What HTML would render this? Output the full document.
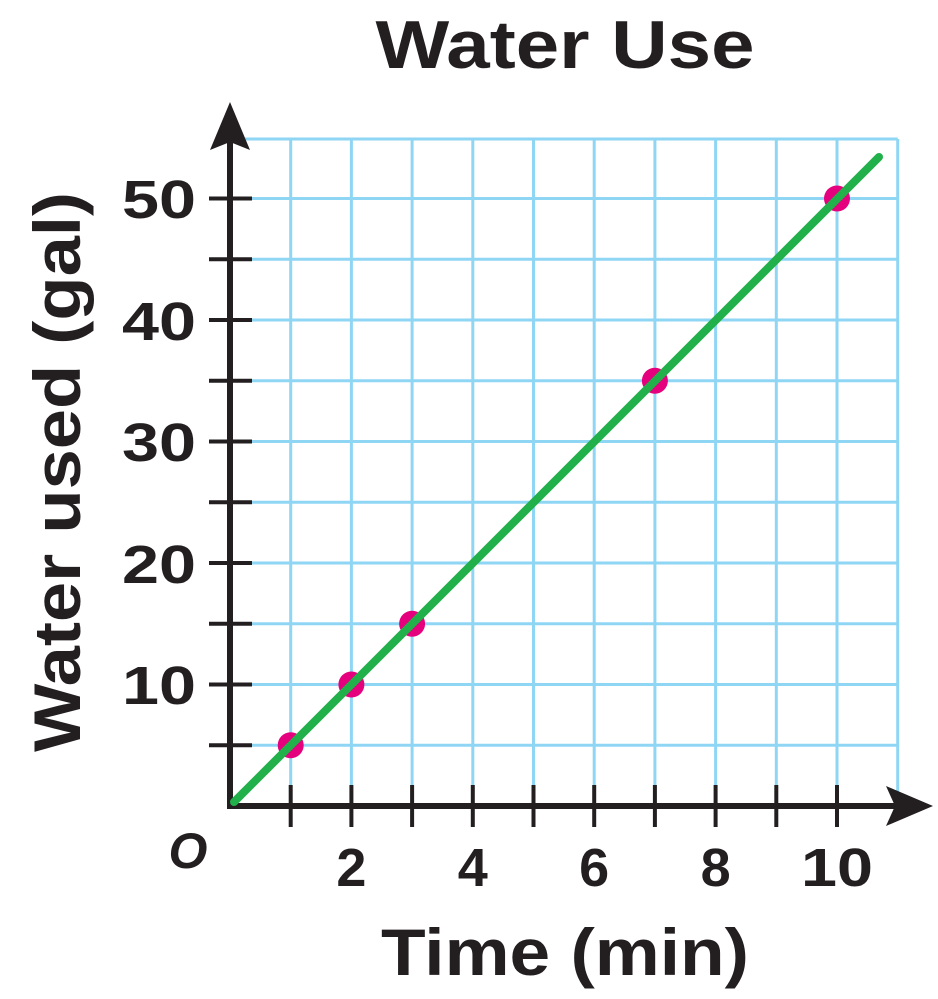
<!DOCTYPE html>
<html><head><style>html,body{margin:0;padding:0;background:#fff}</style></head>
<body>
<svg width="938" height="994" viewBox="0 0 938 994" xmlns="http://www.w3.org/2000/svg" font-family="Liberation Sans, sans-serif" font-weight="bold" fill="#231f20">
<g stroke="#8fd6f5" stroke-width="3">
<line x1="290.7" y1="139" x2="290.7" y2="806"/>
<line x1="351.4" y1="139" x2="351.4" y2="806"/>
<line x1="412.1" y1="139" x2="412.1" y2="806"/>
<line x1="472.8" y1="139" x2="472.8" y2="806"/>
<line x1="533.5" y1="139" x2="533.5" y2="806"/>
<line x1="594.2" y1="139" x2="594.2" y2="806"/>
<line x1="654.9" y1="139" x2="654.9" y2="806"/>
<line x1="715.6" y1="139" x2="715.6" y2="806"/>
<line x1="776.3" y1="139" x2="776.3" y2="806"/>
<line x1="837" y1="139" x2="837" y2="806"/>
<line x1="897.7" y1="139" x2="897.7" y2="806"/>
<line x1="230" y1="745.2" x2="897.7" y2="745.2"/>
<line x1="230" y1="684.5" x2="897.7" y2="684.5"/>
<line x1="230" y1="623.7" x2="897.7" y2="623.7"/>
<line x1="230" y1="563" x2="897.7" y2="563"/>
<line x1="230" y1="502.2" x2="897.7" y2="502.2"/>
<line x1="230" y1="441.5" x2="897.7" y2="441.5"/>
<line x1="230" y1="380.7" x2="897.7" y2="380.7"/>
<line x1="230" y1="320" x2="897.7" y2="320"/>
<line x1="230" y1="259.2" x2="897.7" y2="259.2"/>
<line x1="230" y1="198.5" x2="897.7" y2="198.5"/>
<line x1="230" y1="139" x2="897.7" y2="139"/>
</g>
<g stroke="#231f20" stroke-width="4">
<line x1="290.7" y1="785" x2="290.7" y2="827"/>
<line x1="351.4" y1="785" x2="351.4" y2="827"/>
<line x1="412.1" y1="785" x2="412.1" y2="827"/>
<line x1="472.8" y1="785" x2="472.8" y2="827"/>
<line x1="533.5" y1="785" x2="533.5" y2="827"/>
<line x1="594.2" y1="785" x2="594.2" y2="827"/>
<line x1="654.9" y1="785" x2="654.9" y2="827"/>
<line x1="715.6" y1="785" x2="715.6" y2="827"/>
<line x1="776.3" y1="785" x2="776.3" y2="827"/>
<line x1="837" y1="785" x2="837" y2="827"/>
<line x1="209" y1="745.2" x2="252" y2="745.2"/>
<line x1="209" y1="684.5" x2="252" y2="684.5"/>
<line x1="209" y1="623.7" x2="252" y2="623.7"/>
<line x1="209" y1="563" x2="252" y2="563"/>
<line x1="209" y1="502.2" x2="252" y2="502.2"/>
<line x1="209" y1="441.5" x2="252" y2="441.5"/>
<line x1="209" y1="380.7" x2="252" y2="380.7"/>
<line x1="209" y1="320" x2="252" y2="320"/>
<line x1="209" y1="259.2" x2="252" y2="259.2"/>
<line x1="209" y1="198.5" x2="252" y2="198.5"/>
</g>
<g stroke="#231f20" stroke-width="6">
<line x1="230" y1="809" x2="230" y2="130"/>
<line x1="227" y1="806" x2="900" y2="806"/>
</g>
<polygon points="230,102 250,150 230,142 210,150" fill="#231f20"/>
<polygon points="933,806 886,786 895,806 886,826" fill="#231f20"/>
<g fill="#e5007d">
<circle cx="290.7" cy="745.2" r="13"/>
<circle cx="351.4" cy="684.5" r="13"/>
<circle cx="412.1" cy="623.7" r="13"/>
<circle cx="654.9" cy="380.7" r="13"/>
<circle cx="837" cy="198.5" r="13"/>
</g>
<line x1="234" y1="802" x2="879" y2="157" stroke="#22b04b" stroke-width="8" stroke-linecap="round"/>
<text x="565" y="68" font-size="68" text-anchor="middle" textLength="379" lengthAdjust="spacingAndGlyphs">Water Use</text>
<g font-size="54" text-anchor="end">
<text x="196" y="218" textLength="74" lengthAdjust="spacingAndGlyphs">50</text>
<text x="196" y="340" textLength="74" lengthAdjust="spacingAndGlyphs">40</text>
<text x="196" y="461" textLength="74" lengthAdjust="spacingAndGlyphs">30</text>
<text x="196" y="583" textLength="74" lengthAdjust="spacingAndGlyphs">20</text>
<text x="196" y="704" textLength="74" lengthAdjust="spacingAndGlyphs">10</text>
</g>
<g font-size="54" text-anchor="middle">
<text x="351.4" y="886">2</text>
<text x="472.8" y="886">4</text>
<text x="594.2" y="886">6</text>
<text x="715.6" y="886">8</text>
<text x="837" y="886" textLength="72" lengthAdjust="spacingAndGlyphs">10</text>
</g>
<text x="188" y="868" font-size="50" font-style="italic" text-anchor="middle">O</text>
<text x="565" y="975" font-size="66" text-anchor="middle" textLength="368" lengthAdjust="spacingAndGlyphs">Time (min)</text>
<text transform="translate(80,472) rotate(-90)" font-size="66" text-anchor="middle" textLength="560" lengthAdjust="spacingAndGlyphs">Water used (gal)</text>
</svg>
</body></html>
